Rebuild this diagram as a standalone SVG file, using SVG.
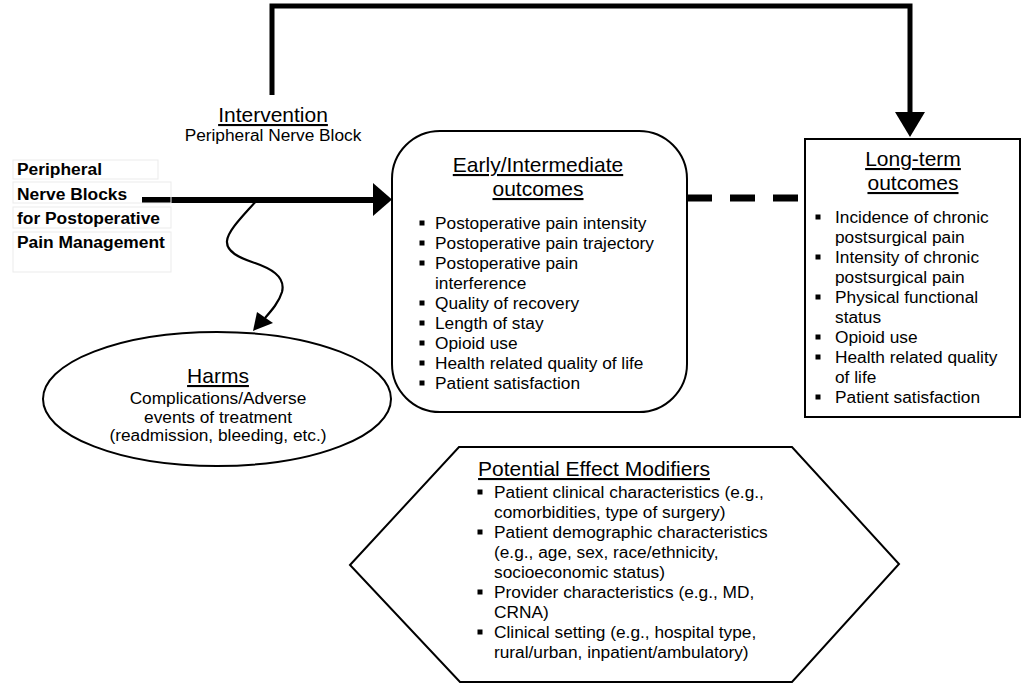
<svg xmlns="http://www.w3.org/2000/svg" width="1033" height="695" viewBox="0 0 1033 695">
<style>
text{font-family:"Liberation Sans",Arial,sans-serif;fill:#000}
.t{font-size:21px;text-anchor:middle;text-decoration:underline}
.b{font-size:17.3px}
.c{font-size:17.3px;text-anchor:middle}
.lb{font-size:17.4px;font-weight:bold}
.shape{fill:#fff;stroke:#000;stroke-width:2}
.cell{fill:none;stroke:#ebebeb;stroke-width:1}
.bul{fill:#000}
</style>
<defs>
<rect id="sq" class="bul" x="-2.5" y="-2.5" width="5" height="5"/>
</defs>
<rect width="1033" height="695" fill="#fff"/>

<g id="connectors">
<polyline points="272,95 272,6 910,6 910,114" fill="none" stroke="#000" stroke-width="5"/>
<polygon points="895,112 925,112 910,137" fill="#000"/>
<line x1="142" y1="200" x2="375" y2="200" stroke="#000" stroke-width="6"/>
<polygon points="373,183 392,199.5 373,216" fill="#000"/>
<line x1="687" y1="198" x2="805" y2="198" stroke="#000" stroke-width="7" stroke-dasharray="25 18"/>
<path d="M257,200 C245,214 228,230 227,241 C226,252 240,258 252,262 C270,268 286,276 282,292 C279,302 272,310 265,318" fill="none" stroke="#000" stroke-width="2.2"/>
<polygon points="253,331 257,312 273,323" fill="#000"/>
</g>

<g id="intervention-label">
<text class="t" x="273" y="122">Intervention</text>
<text class="c" x="273" y="141">Peripheral Nerve Block</text>
</g>

<g id="pnb">
<rect class="cell" x="13" y="160" width="145" height="19"/>
<rect class="cell" x="13" y="182" width="158" height="21"/>
<rect class="cell" x="13" y="207" width="158" height="21"/>
<rect class="cell" x="13" y="232" width="158" height="40"/>
<text class="lb" x="17" y="175">Peripheral</text>
<text class="lb" x="17" y="200">Nerve Blocks</text>
<text class="lb" x="17" y="224">for Postoperative</text>
<text class="lb" x="17" y="248">Pain Management</text>
</g>

<g id="early">
<rect class="shape" x="392" y="131" width="295" height="281" rx="48" ry="48"/>
<text class="t" x="538" y="172">Early/Intermediate</text>
<text class="t" x="538" y="196">outcomes</text>
<use href="#sq" x="422" y="223"/>
<use href="#sq" x="422" y="243"/>
<use href="#sq" x="422" y="263"/>
<use href="#sq" x="422" y="303"/>
<use href="#sq" x="422" y="323"/>
<use href="#sq" x="422" y="343"/>
<use href="#sq" x="422" y="363"/>
<use href="#sq" x="422" y="383"/>
<text class="b" x="435" y="229">Postoperative pain intensity</text>
<text class="b" x="435" y="249">Postoperative pain trajectory</text>
<text class="b" x="435" y="269">Postoperative pain</text>
<text class="b" x="435" y="289">interference</text>
<text class="b" x="435" y="309">Quality of recovery</text>
<text class="b" x="435" y="329">Length of stay</text>
<text class="b" x="435" y="349">Opioid use</text>
<text class="b" x="435" y="369">Health related quality of life</text>
<text class="b" x="435" y="389">Patient satisfaction</text>
</g>

<g id="longterm">
<rect class="shape" x="805" y="139" width="215" height="278"/>
<text class="t" x="913" y="166">Long-term</text>
<text class="t" x="913" y="190">outcomes</text>
<use href="#sq" x="818" y="217"/>
<use href="#sq" x="818" y="257"/>
<use href="#sq" x="818" y="297"/>
<use href="#sq" x="818" y="337"/>
<use href="#sq" x="818" y="357"/>
<use href="#sq" x="818" y="397"/>
<text class="b" x="835" y="223">Incidence of chronic</text>
<text class="b" x="835" y="243">postsurgical pain</text>
<text class="b" x="835" y="263">Intensity of chronic</text>
<text class="b" x="835" y="283">postsurgical pain</text>
<text class="b" x="835" y="303">Physical functional</text>
<text class="b" x="835" y="323">status</text>
<text class="b" x="835" y="343">Opioid use</text>
<text class="b" x="835" y="363">Health related quality</text>
<text class="b" x="835" y="383">of life</text>
<text class="b" x="835" y="403">Patient satisfaction</text>
</g>

<g id="harms">
<ellipse class="shape" cx="217" cy="399" rx="174" ry="67"/>
<text class="t" x="218" y="383">Harms</text>
<text class="c" x="218" y="404">Complications/Adverse</text>
<text class="c" x="218" y="422.5">events of treatment</text>
<text class="c" x="218" y="441">(readmission, bleeding, etc.)</text>
</g>

<g id="modifiers">
<polygon class="shape" points="350,565 459,447 792,447 899,564 792,682 460,682"/>
<text class="t" x="594" y="476">Potential Effect Modifiers</text>
<use href="#sq" x="480" y="492"/>
<use href="#sq" x="480" y="532"/>
<use href="#sq" x="480" y="592"/>
<use href="#sq" x="480" y="632"/>
<text class="b" x="494" y="498">Patient clinical characteristics (e.g.,</text>
<text class="b" x="494" y="518">comorbidities, type of surgery)</text>
<text class="b" x="494" y="538">Patient demographic characteristics</text>
<text class="b" x="494" y="558">(e.g., age, sex, race/ethnicity,</text>
<text class="b" x="494" y="578">socioeconomic status)</text>
<text class="b" x="494" y="598">Provider characteristics (e.g., MD,</text>
<text class="b" x="494" y="618">CRNA)</text>
<text class="b" x="494" y="638">Clinical setting (e.g., hospital type,</text>
<text class="b" x="494" y="658">rural/urban, inpatient/ambulatory)</text>
</g>
</svg>
